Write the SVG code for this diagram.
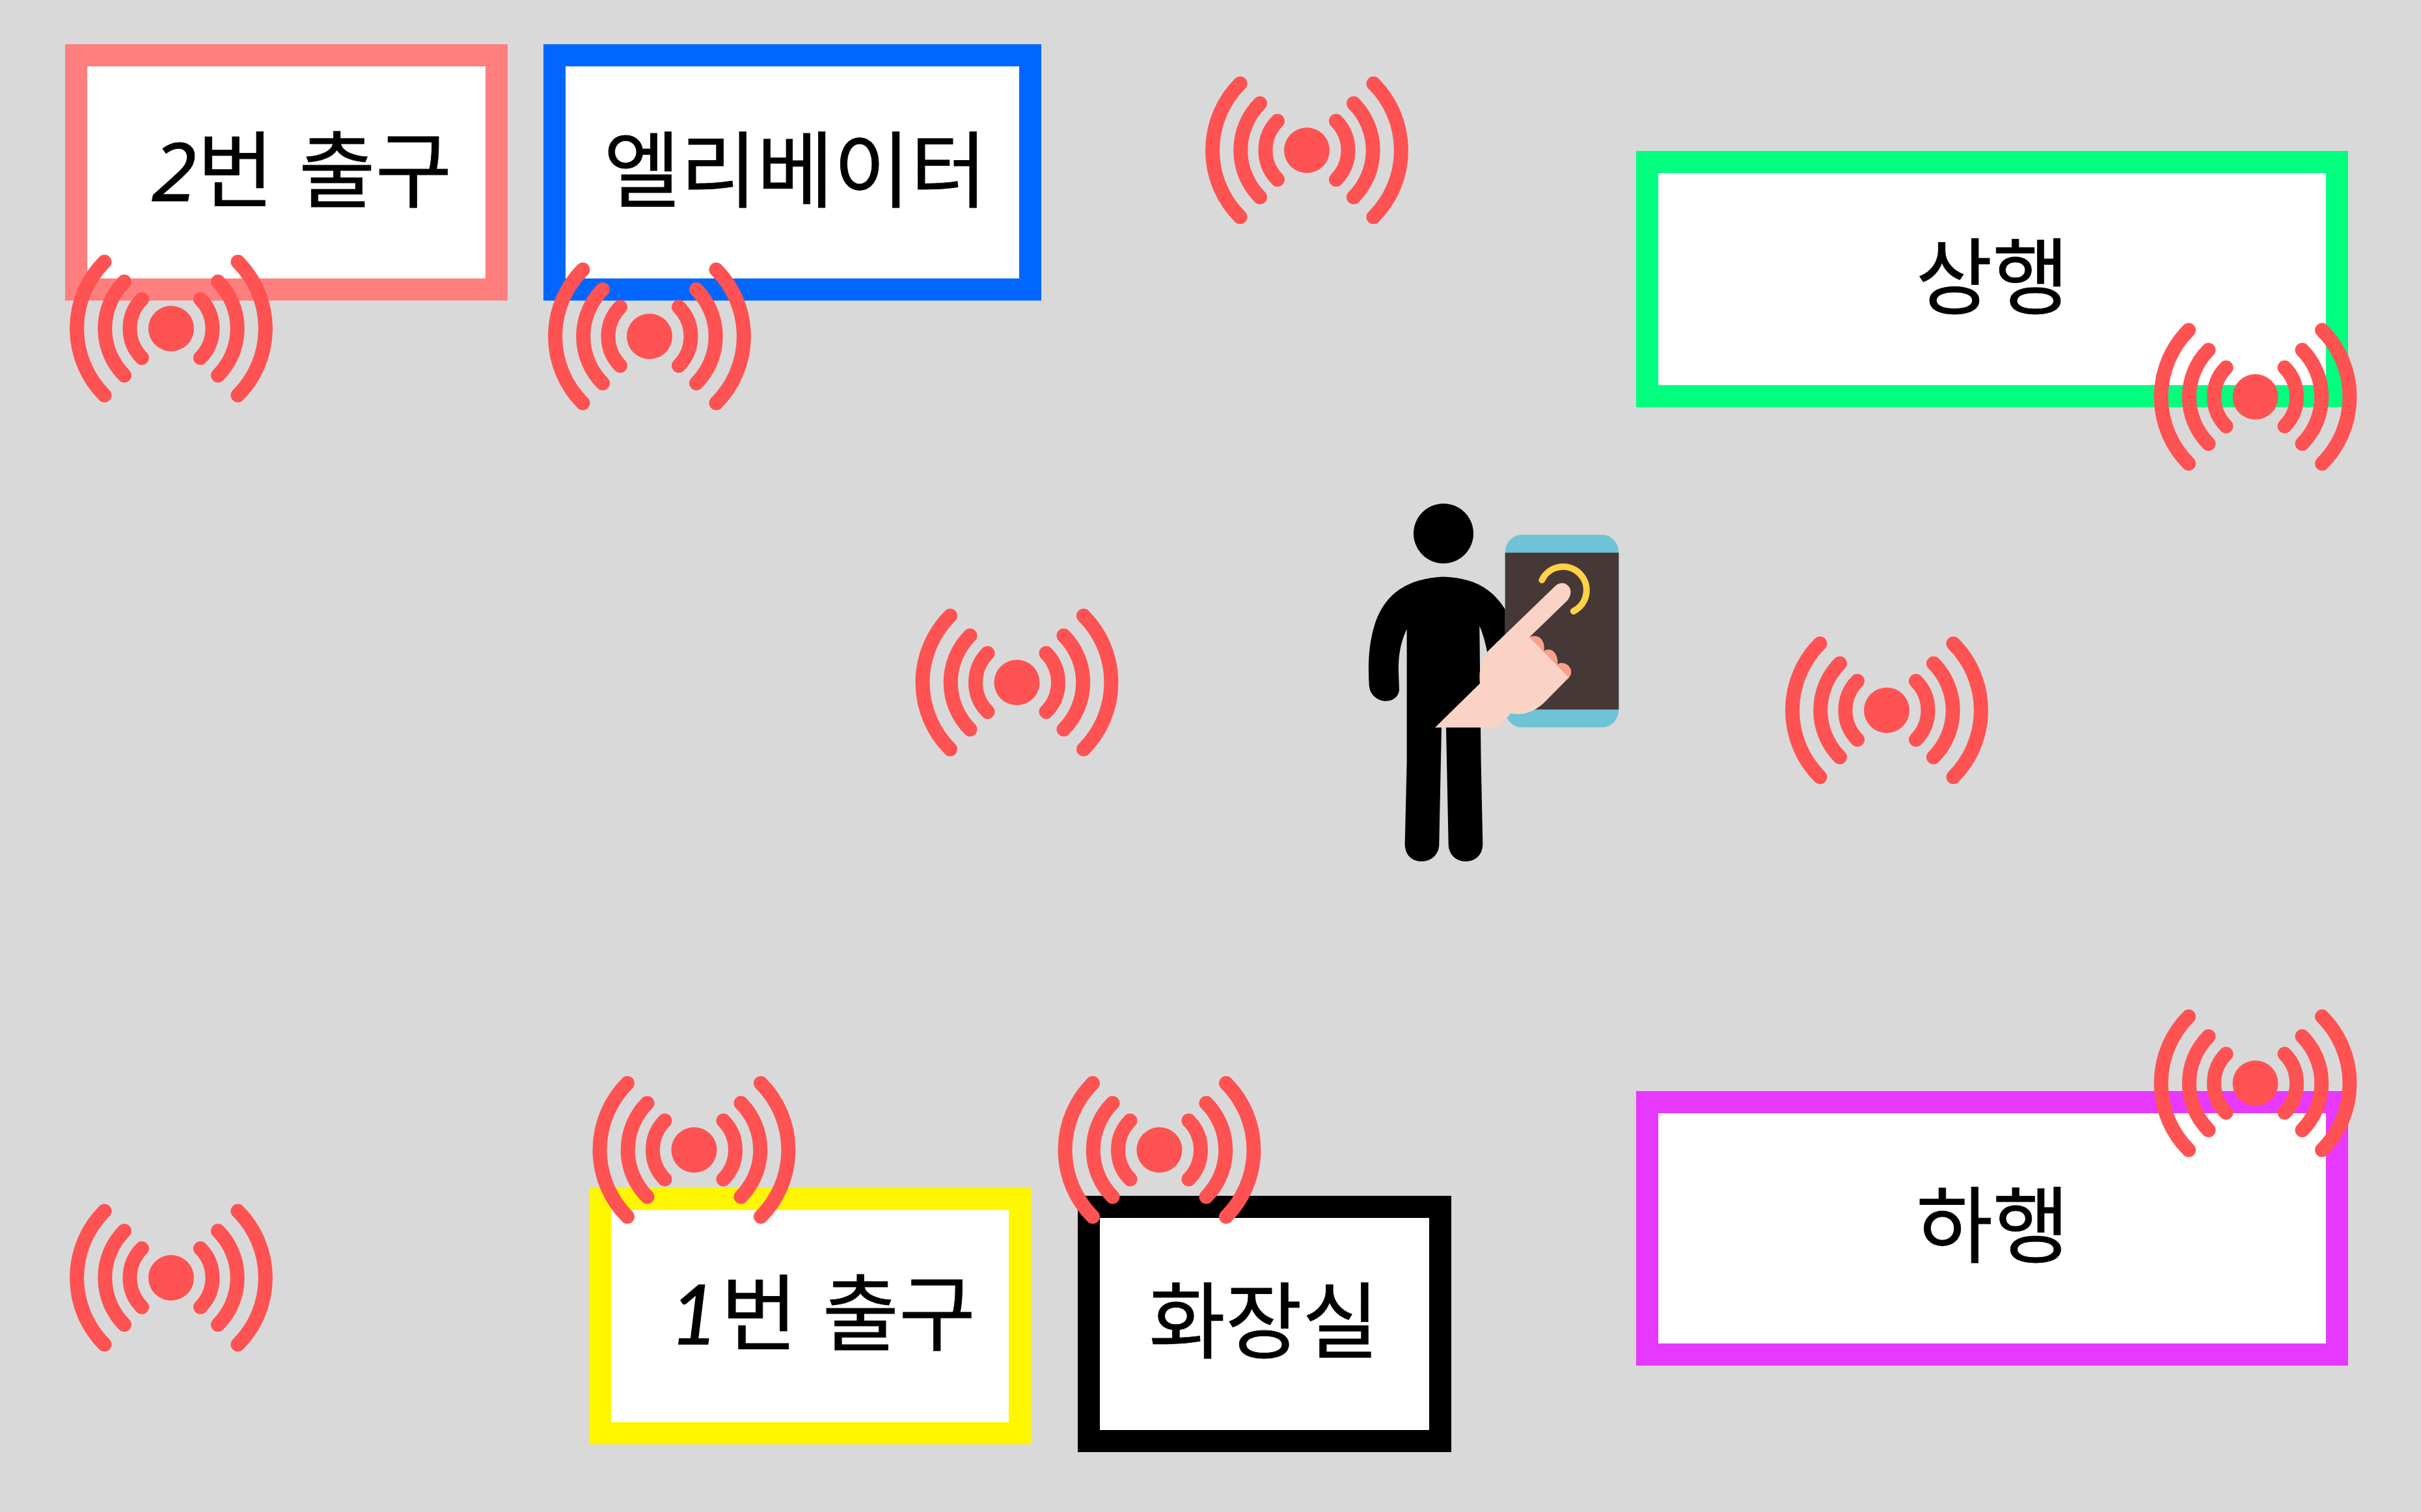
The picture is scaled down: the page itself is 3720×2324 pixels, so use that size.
<svg xmlns="http://www.w3.org/2000/svg" width="3720" height="2324" viewBox="0 0 3720 2324">
<style>
.box{fill:#fff;stroke-width:34}
.lbl{font-family:"Noto Sans CJK KR","Noto Sans",sans-serif;font-size:128px;fill:#000;stroke:#000;stroke-width:.8}
.gap{word-spacing:9.5px}
.d2{font-family:"Noto Sans",sans-serif;font-style:italic;font-size:125px}
.d1{font-family:Lato,sans-serif;font-style:italic;font-size:126px;stroke-width:1.5}
.arc{fill:none;stroke:#FF5252;stroke-width:22;stroke-linecap:round}
</style>
<defs>
<g id="signal">
<circle r="35" fill="#FF5252"/>
<path class="arc" d="M-45,-45A64,64 0 0 0 -45,45M45,-45A64,64 0 0 1 45,45M-72,-72A102,102 0 0 0 -72,72M72,-72A102,102 0 0 1 72,72M-102.5,-102.5A145,145 0 0 0 -102.5,102.5M102.5,-102.5A145,145 0 0 1 102.5,102.5"/>
</g>
</defs>
<rect width="3720" height="2324" fill="#D9D9D9"/>
<g id="node-exit2"><rect class="box" x="117" y="85" width="646" height="360" stroke="#FF7F7F"/><text class="lbl" y="308.5"><tspan class="d2" x="233">2</tspan><tspan class="gap" x="303">번 출구</tspan></text></g>
<g id="node-elevator"><rect class="box" x="852" y="85" width="731" height="360" stroke="#0066FF"/><text class="lbl" x="1222" y="308.5" text-anchor="middle">엘리베이터</text></g>
<g id="node-up"><rect class="box" x="2531" y="249" width="1060" height="360" stroke="#00FF7F"/><text class="lbl" x="3061.5" y="472.5" text-anchor="middle">상행</text></g>
<g id="node-down"><rect class="box" x="2531" y="1694" width="1060" height="388" stroke="#E638FF"/><text class="lbl" x="3062" y="1930.5" text-anchor="middle">하행</text></g>
<g id="node-exit1"><rect class="box" x="922" y="1843" width="645" height="360" stroke="#FFF700"/><text class="lbl" y="2066"><tspan class="d1" x="1030">1</tspan><tspan class="gap" x="1107.5">번 출구</tspan></text></g>
<g id="node-toilet"><rect class="box" x="1673" y="1855" width="540" height="360" stroke="#000"/><text class="lbl" x="1942" y="2078" text-anchor="middle">화장실</text></g>
<g id="person">
<path fill="#000" transform="translate(2050,750) scale(0.3333,0.3827)" d="M500,357C620,360 720,390 790,490L790,600L710,680C700,630 690,595 670,553L677,1100L685,1430C685,1475 650,1500 606,1500C565,1500 527,1475 527,1430L516,960L495,960L484,1430C484,1475 445,1500 403,1500C360,1500 326,1475 326,1430L335,1100L335,567C305,620 295,680 297,740L300,810C298,840 270,856 237,856C200,856 162,830 161,790C155,700 160,620 190,540C240,420 340,365 500,357Z"/>
<ellipse cx="2218" cy="820" rx="46" ry="46" fill="#000"/>
</g>
<g id="phone">
<rect x="2312.7" y="822" width="174.6" height="296" rx="25" ry="27" fill="#6EC4D6"/>
<rect x="2312.7" y="849.5" width="174.6" height="241" fill="#463836"/>
<path d="M2369.3,891.6A36,36 0 1 1 2417.7,939.4" fill="none" stroke="#FFD147" stroke-width="10" stroke-linecap="round"/>
<g transform="translate(2050,750) scale(0.3333,0.3827)">
<path fill="#F9A18C" d="M897,600C930,585 975,600 968,655C1000,635 1035,665 1030,708C1060,690 1105,720 1090,752L1080,765Z"/>
<path fill="#FAD3C6" d="M465,962L672,785C665,730 680,680 715,650L1020,393C1045,375 1075,380 1088,405C1095,425 1085,440 1075,452L900,600L1082,762L965,865C920,900 870,915 815,905L755,962Z"/>
</g>
</g>
<g id="beacons">
<use id="beacon-1" href="#signal" x="2008" y="231"/>
<use id="beacon-2" href="#signal" x="263" y="505"/>
<use id="beacon-3" href="#signal" x="998" y="517"/>
<use id="beacon-4" href="#signal" x="3465.5" y="610"/>
<use id="beacon-5" href="#signal" x="1562.5" y="1049"/>
<use id="beacon-6" href="#signal" x="2899" y="1091.7"/>
<use id="beacon-7" href="#signal" x="3465.5" y="1665"/>
<use id="beacon-8" href="#signal" x="1066.5" y="1767.5"/>
<use id="beacon-9" href="#signal" x="1781.5" y="1767.5"/>
<use id="beacon-10" href="#signal" x="263" y="1964"/>
</g>
</svg>
